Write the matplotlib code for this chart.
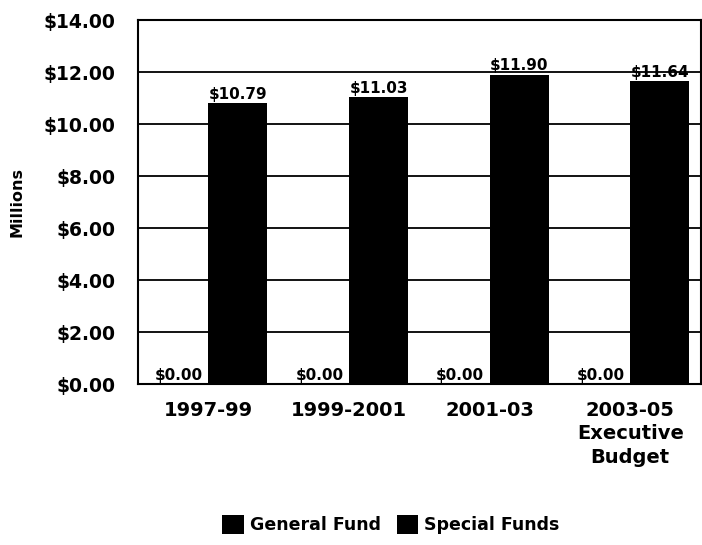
import matplotlib
matplotlib.use("Agg")
import matplotlib.pyplot as plt
import numpy as np

categories = ["1997-99", "1999-2001", "2001-03", "2003-05\nExecutive\nBudget"]
general_fund = [0.00, 0.00, 0.00, 0.00]
special_funds = [10.79, 11.03, 11.90, 11.64]
yticks = [0, 2, 4, 6, 8, 10, 12, 14]

plt.rcParams['font.family'] = ['DejaVu Sans']

fig = plt.figure(figsize=(7.02, 5.45), dpi=100)
ax = fig.add_axes([0.1966, 0.2954, 0.8014, 0.6679])

x = np.arange(len(categories))
w = 0.42
b1 = ax.bar(x - w / 2, general_fund, w, color="black", linewidth=0, label="General Fund", zorder=3)
b2 = ax.bar(x + w / 2, special_funds, w, color="black", linewidth=0, label="Special Funds", zorder=3)

for rects, vals in ((b1, general_fund), (b2, special_funds)):
    for r, v in zip(rects, vals):
        ax.annotate(f"${v:.2f}", (r.get_x() + r.get_width() / 2, v),
                    xytext=(0, 1), textcoords="offset points",
                    ha="center", va="bottom", fontsize=11, fontweight="bold", zorder=4)

ax.set_xlim(-0.5, len(categories) - 0.5)
ax.set_ylim(0, 14)
ax.set_yticks(yticks)
ax.set_yticklabels([f"${t:.2f}" for t in yticks], fontsize=13.5, fontweight="bold")
ax.set_xticks(x)
ax.set_xticklabels(categories, fontsize=14, fontweight="bold", linespacing=1.3)
ax.tick_params(axis="y", length=0, pad=16)
ax.tick_params(axis="x", length=0, pad=12)
ax.yaxis.grid(True, color="black", linewidth=1.3, zorder=1)
for s in ax.spines.values():
    s.set_linewidth(1.5)
    s.set_color("black")
ax.set_ylabel("Millions", fontsize=11.5, fontweight="bold", labelpad=14)

fig.legend(handles=[b1, b2], labels=["General Fund", "Special Funds"],
           loc="center", bbox_to_anchor=(0.557, 0.037), ncol=2, frameon=False,
           prop={"size": 12.5, "weight": "bold"}, handlelength=1.25, handleheight=1.25,
           handletextpad=0.35, columnspacing=0.9)

fig.savefig("out.png", dpi=100)
